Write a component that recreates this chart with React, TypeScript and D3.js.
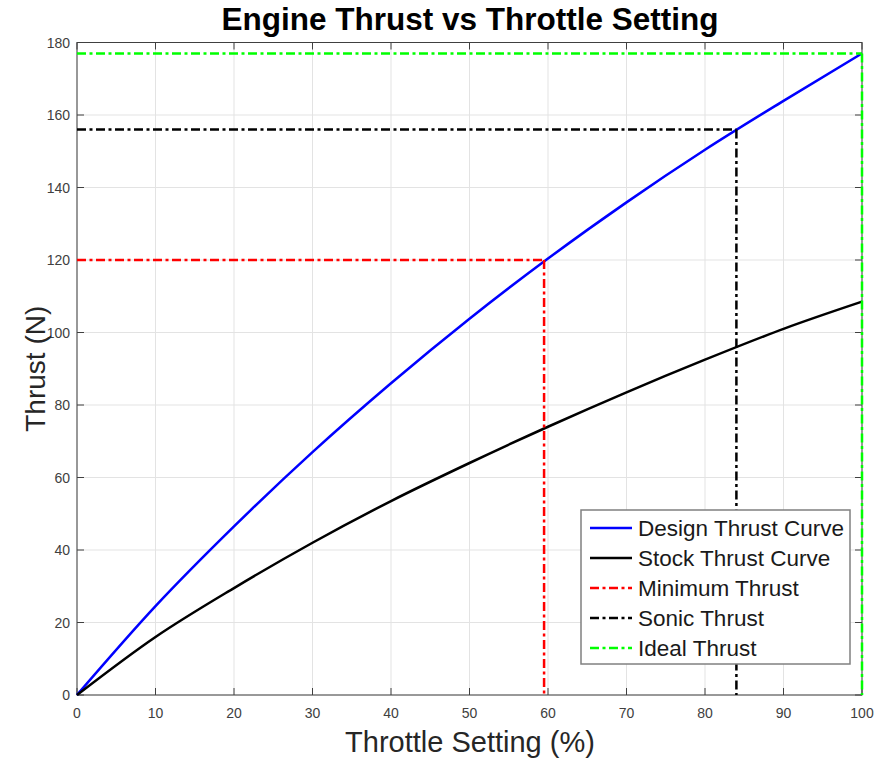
import React from "react";
import * as d3 from "d3";

const throttle = [0, 10, 20, 30, 40, 50, 60, 70, 80, 90, 100];
const designThrust = [0, 24.5, 46.5, 67, 86, 103.8, 120.4, 135.9, 150.4, 163.9, 177];
const stockThrust = [0, 16, 29.5, 42, 53.5, 64, 74, 83.5, 92.5, 101, 108.5];

const minimumThrust = { x: 59.5, y: 120 };
const sonicThrust = { x: 84, y: 156 };
const idealThrust = { x: 100, y: 177 };

const xTicks = [0, 10, 20, 30, 40, 50, 60, 70, 80, 90, 100];
const yTicks = [0, 20, 40, 60, 80, 100, 120, 140, 160, 180];

const legendLabels = [
  "Design Thrust Curve",
  "Stock Thrust Curve",
  "Minimum Thrust",
  "Sonic Thrust",
  "Ideal Thrust",
];

const W = 874;
const H = 759;
const L = 77, R = 862, T = 42.5, B = 695;
const FONT = "'Liberation Sans', Arial, Helvetica, sans-serif";
const DASH = "9,3.5,3,3.5";

export default function App() {
  const x = d3.scaleLinear().domain([0, 100]).range([L, R]);
  const y = d3.scaleLinear().domain([0, 180]).range([B, T]);
  const line = d3
    .line<number>()
    .x((_, i) => x(throttle[i]))
    .y((d) => y(d))
    .curve(d3.curveMonotoneX);

  const refs = [
    { p: minimumThrust, color: "#ff0000" },
    { p: sonicThrust, color: "#000000" },
    { p: idealThrust, color: "#00ff00" },
  ];

  const legendItems = [
    { label: legendLabels[0], color: "#0000ff", dash: undefined },
    { label: legendLabels[1], color: "#000000", dash: undefined },
    { label: legendLabels[2], color: "#ff0000", dash: DASH },
    { label: legendLabels[3], color: "#000000", dash: DASH },
    { label: legendLabels[4], color: "#00ff00", dash: DASH },
  ];

  const axisColor = "#404040";
  const tickLen = 7;

  return (
    <svg
      width={W}
      height={H}
      style={{ position: "absolute", left: 0, top: 0, background: "#fff" }}
      fontFamily={FONT}
    >
      <rect x={0} y={0} width={W} height={H} fill="#fff" />
      {xTicks.map((t) => (
        <line key={"gx" + t} x1={x(t)} x2={x(t)} y1={T} y2={B} stroke="#e3e3e3" strokeWidth={1} />
      ))}
      {yTicks.map((t) => (
        <line key={"gy" + t} x1={L} x2={R} y1={y(t)} y2={y(t)} stroke="#e3e3e3" strokeWidth={1} />
      ))}
      <rect x={L} y={T} width={R - L} height={B - T} fill="none" stroke={axisColor} strokeWidth={1} />
      {xTicks.map((t) => (
        <g key={"tx" + t}>
          <line x1={x(t)} x2={x(t)} y1={B} y2={B - tickLen} stroke={axisColor} />
          <line x1={x(t)} x2={x(t)} y1={T} y2={T + tickLen} stroke={axisColor} />
          <text x={x(t)} y={717.5} textAnchor="middle" fontSize={14} fill="#404040">
            {t}
          </text>
        </g>
      ))}
      {yTicks.map((t) => (
        <g key={"ty" + t}>
          <line x1={L} x2={L + tickLen} y1={y(t)} y2={y(t)} stroke={axisColor} />
          <line x1={R} x2={R - tickLen} y1={y(t)} y2={y(t)} stroke={axisColor} />
          <text x={70} y={y(t) + 5} textAnchor="end" fontSize={14} fill="#404040">
            {t}
          </text>
        </g>
      ))}
      <path d={line(designThrust) || ""} fill="none" stroke="#0000ff" strokeWidth={2.5} />
      <path d={line(stockThrust) || ""} fill="none" stroke="#000000" strokeWidth={2.5} />
      {refs.map((r, i) => (
        <g key={"ref" + i}>
          <line x1={x(0)} x2={x(r.p.x)} y1={y(r.p.y)} y2={y(r.p.y)} stroke={r.color} strokeWidth={2.5} strokeDasharray={DASH} />
          <line x1={x(r.p.x)} x2={x(r.p.x)} y1={y(r.p.y)} y2={y(0)} stroke={r.color} strokeWidth={2.5} strokeDasharray={DASH} />
        </g>
      ))}
      <rect x={581} y={510} width={269} height={154} fill="#fff" stroke="#808080" strokeWidth={1.5} />
      {legendItems.map((it, i) => {
        const cy = 528 + i * 30;
        return (
          <g key={"lg" + i}>
            <line x1={590} x2={632} y1={cy} y2={cy} stroke={it.color} strokeWidth={2.5} strokeDasharray={it.dash} />
            <text x={638} y={cy + 8} fontSize={22.5} fill="#1a1a1a">
              {it.label}
            </text>
          </g>
        );
      })}
      <text x={470} y={30} textAnchor="middle" fontSize={31.5} fontWeight="bold" fill="#000">
        Engine Thrust vs Throttle Setting
      </text>
      <text x={470} y={752} textAnchor="middle" fontSize={29} fill="#262626">
        Throttle Setting (%)
      </text>
      <text
        transform={`translate(45, ${(T + B) / 2}) rotate(-90)`}
        textAnchor="middle"
        fontSize={28}
        fill="#262626"
      >
        Thrust (N)
      </text>
    </svg>
  );
}
